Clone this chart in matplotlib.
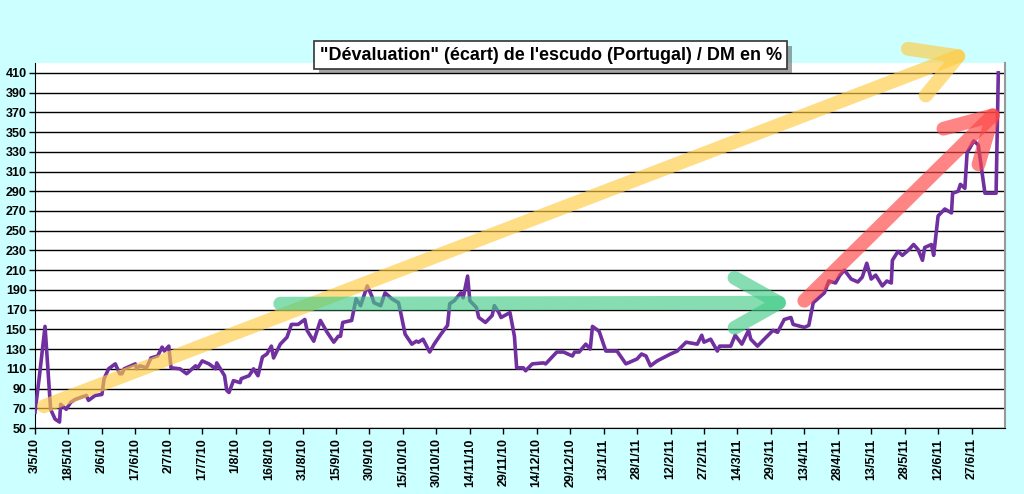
import pandas as pd
import numpy as np
import matplotlib
matplotlib.use("Agg")
import matplotlib.pyplot as plt
import matplotlib.patheffects as pe

START = pd.Timestamp("2010-05-03")

# day offset from 3/5/10, value in %
days = [0, 2, 4.5, 7, 9, 11, 11.5, 14, 16, 18, 23, 24, 27, 30, 31, 33, 36, 38, 39, 40,
        45, 45.5, 47, 50, 52, 55, 57, 58, 60, 61, 65, 68, 72, 73, 75, 78, 81, 81.5, 85, 86,
        87, 89, 92, 92.5, 96, 98, 100, 102, 104, 106, 107, 110, 113, 115, 118, 121, 122, 125, 128, 131,
        134, 136, 137, 138, 142, 144, 146, 149, 151, 152, 155, 157, 160, 163, 164, 166, 169, 171, 172, 174,
        177, 179, 182, 185, 186, 188, 191, 192, 194, 195, 198, 199, 202, 205, 206, 208, 209, 213, 215, 216,
        219, 220, 223, 228, 229, 234, 237, 241, 242, 244, 247, 249, 250, 253, 256, 261, 265, 270, 272, 274,
        276, 279, 285, 288, 292, 297, 299, 300, 303, 306, 307, 312, 314, 317, 320, 321, 324, 327, 331, 333,
        336, 339, 340, 345, 347, 349, 354, 356, 359, 361, 363, 366, 369, 371, 373, 375, 377, 380, 382, 384,
        384.5, 387, 389, 392, 394, 396, 398, 399, 402, 403, 405, 408, 411, 411.5, 414, 415, 417, 418, 421, 423,
        426, 431, 432]
values = [66, 103, 153, 69, 59, 56, 74, 69, 76, 79, 83, 78, 83, 84, 100, 110, 115, 105, 105, 110,
          115, 110, 113, 111, 121, 123, 132, 128, 133, 111, 110, 105, 113, 111, 118, 115, 110, 116, 103, 88,
          86, 98, 96, 100, 103, 110, 103, 122, 125, 133, 121, 135, 142, 155, 155, 160, 149, 138, 159, 147,
          137, 143, 143, 157, 159, 181, 174, 194, 184, 177, 174, 187, 181, 177, 167, 145, 135, 138, 137, 140,
          127, 135, 145, 154, 176, 179, 187, 182, 204, 179, 172, 162, 157, 164, 174, 167, 162, 167, 143, 111,
          111, 108, 115, 116, 115, 127, 127, 123, 127, 127, 135, 130, 153, 148, 128, 128, 115, 120, 125, 123,
          113, 118, 125, 128, 137, 135, 144, 137, 140, 128, 133, 133, 144, 135, 149, 140, 133, 140, 149, 147,
          160, 162, 155, 152, 154, 177, 187, 199, 197, 205, 210, 201, 198, 203, 217, 201, 205, 194, 199, 197,
          220, 229, 225, 231, 236, 231, 220, 233, 236, 225, 265, 272, 268, 288, 290, 297, 293, 329, 341, 337,
          288, 288, 410]

# trend arrows: (tail day, tail value, head day, head value)
arrow_yellow = (4, 72, 420, 432)
arrow_green = (110, 176, 340, 177)
arrow_red = (345, 179, 434, 377)

yticks = list(range(50, 411, 20))
xtick_days = list(range(0, 421, 15))
xtick_labels = [f"{d.day}/{d.month}/{d.year % 100}" for d in
                [START + pd.Timedelta(days=k) for k in xtick_days]]

plt.rcParams['font.family'] = ['Liberation Sans', 'DejaVu Sans']

fig = plt.figure(figsize=(10.24, 4.94), dpi=100)
fig.patch.set_facecolor("#CCFFFF")
ax = fig.add_axes([35 / 1024, 66 / 494, 970 / 1024, 365 / 494])
ax.set_facecolor("white")

ax.set_ylim(50, 420)
ax.set_xlim(0, 435)
for y in yticks:
    ax.axhline(y, color="black", lw=1, zorder=1)

ax.plot(days, values, color="#7030A0", lw=2.6, zorder=3)

for (x0, y0, x1, y1), col in [(arrow_yellow, "#FFCC44"), (arrow_green, "#44CC88"), (arrow_red, "#FF4444")]:
    ax.annotate("", xy=(x1, y1), xytext=(x0, y0),
                arrowprops=dict(arrowstyle="->,head_length=3.2,head_width=1.8",
                                color=col, lw=10, alpha=0.65, shrinkA=0, shrinkB=0,
                                capstyle="round", joinstyle="round"),
                annotation_clip=False, zorder=4)

ax.set_yticks(yticks)
ax.set_yticklabels([str(v) for v in yticks], fontsize=9, fontweight="bold")
ax.set_xticks(xtick_days)
ax.set_xticklabels(xtick_labels, rotation=90, fontsize=9, fontweight="bold")
ax.tick_params(axis="both", length=4, width=1, color="black")
ax.tick_params(axis="y", pad=2)
ax.spines["top"].set_visible(False)
ax.spines["right"].set_color("#999999")
ax.spines["right"].set_linewidth(1.5)

fig.text(0.538, 0.888, "\"Dévaluation\" (écart) de l'escudo (Portugal) / DM en %",
         ha="center", va="center", fontsize=13, fontweight="bold",
         bbox=dict(boxstyle="square,pad=0.3", fc="white", ec="#333333", lw=1.2,
                   path_effects=[pe.withSimplePatchShadow(offset=(3, -3), alpha=0.5)]))

fig.savefig("out.png", dpi=100, facecolor=fig.get_facecolor())
